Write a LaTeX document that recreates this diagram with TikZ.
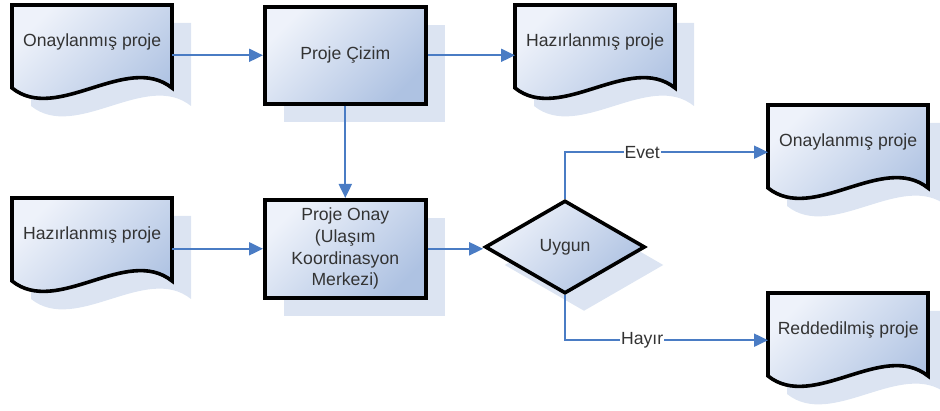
\documentclass[tikz,border=0pt]{standalone}
\usepackage{fontspec}
\setmainfont{Liberation Sans}
\usepackage{tikz}
\usetikzlibrary{arrows.meta,shapes.geometric,shadows,calc}
\definecolor{fillA}{HTML}{EEF2FA}
\definecolor{fillB}{HTML}{AEC2E2}
\definecolor{shadowblue}{HTML}{DCE4F2}
\definecolor{flowblue}{HTML}{4A7CC4}
\definecolor{inkgray}{HTML}{333333}

\tikzset{
  txt/.style={font=\fontsize{17.6}{21.7}\selectfont, text=inkgray, align=center},
  shade fill/.style={top color=fillA, bottom color=fillB, shading angle=45},
  boxshadow/.style={drop shadow={shadow xshift=19pt, shadow yshift=-18pt, fill=shadowblue, opacity=1}},
  outline/.style={draw=black, line width=3.6pt},
  docbox/.style={rectangle, minimum width=160pt, minimum height=94pt, inner sep=0pt},
  procbox/.style={rectangle, outline, shade fill, boxshadow, txt, minimum width=161pt, minimum height=97pt, inner sep=2pt},
  decision/.style={diamond, outline, shade fill, boxshadow, txt, minimum width=160pt, minimum height=93pt, inner sep=0pt},
  flow/.style={draw=flowblue, line width=2pt, -{Triangle[length=14pt,width=13pt]}},
  lbl/.style={txt, fill=white, inner sep=1pt},
}

% document symbol: straight top and sides, wavy bottom
\newcommand{\docnode}[3]{%
  \node[docbox, anchor=north west] (#1) at #2 {};
  \draw[outline, shade fill, boxshadow] (#1.north west) -- ++(160,0) -- ++(0,83)
    .. controls +(-45,-36) and +(45,36) .. ++(-160,0) -- cycle;
  \node[txt] (#1-t) at ($(#1.center)+(0,-10)$) {#3};
}

\begin{document}
\begin{tikzpicture}[x=1pt, y=-1pt]
\useasboundingbox (0,0) rectangle (940,411);

% first row
\docnode{onay1}{(12,5)}{Onaylanmış proje}
\node[procbox, anchor=north west] (cizim) at (263,5) {Proje Çizim};
\docnode{hazir1}{(515,5)}{Hazırlanmış proje}

% second row
\docnode{hazir2}{(12,198)}{Hazırlanmış proje}
\node[procbox, anchor=north west, minimum height=98pt] (onaymerkez) at (263,198)
  {Proje Onay\\(Ulaşım\\Koordinasyon\\Merkezi)};
\node[decision] (uygun) at (565,247) {Uygun};

% outcomes
\docnode{onay2}{(768,105)}{Onaylanmış proje}
\docnode{red}{(768,293)}{Reddedilmiş proje}

% connectors
\draw[flow] (cizim.west -| onay1.east) -- (cizim.west);
\draw[flow] (cizim.east) -- (cizim.east -| hazir1.west);
\draw[flow] (cizim) -- (onaymerkez);
\draw[flow] (onaymerkez.west -| hazir2.east) -- (onaymerkez.west);
\draw[flow] (onaymerkez.east) -- (onaymerkez.east -| uygun.west);
\draw[flow] (uygun.north) |- node[lbl, pos=0.69] {Evet} (onay2.west);
\draw[flow] (uygun.south) |- node[lbl, pos=0.69] {Hayır} (red.west);
\end{tikzpicture}
\end{document}
